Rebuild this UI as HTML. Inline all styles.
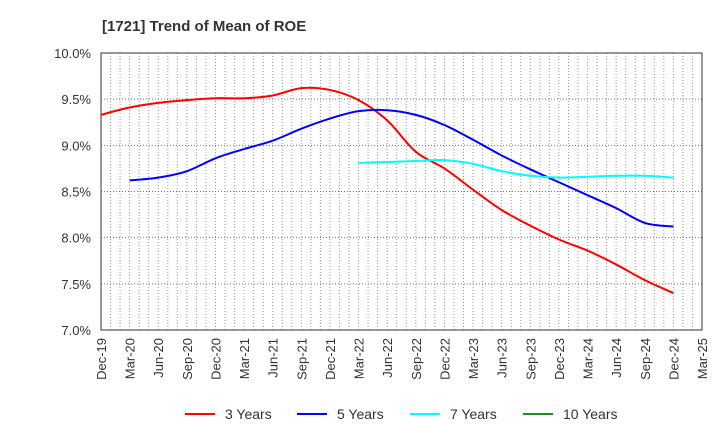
<!DOCTYPE html>
<html><head><meta charset="utf-8"><style>
body{margin:0;background:#fff;font-family:"Liberation Sans",sans-serif;}
</style></head><body>
<svg id="chart" width="720" height="440" xmlns="http://www.w3.org/2000/svg">
<text x="102" y="31" font-size="15" font-weight="bold" fill="#333">[1721]  Trend of Mean of ROE</text>
<g id="grid"></g><g id="axes"></g><g id="series"></g><g id="legend"></g>
</svg>
<script>
const xLabels=["Dec-19","Mar-20","Jun-20","Sep-20","Dec-20","Mar-21","Jun-21","Sep-21","Dec-21","Mar-22","Jun-22","Sep-22","Dec-22","Mar-23","Jun-23","Sep-23","Dec-23","Mar-24","Jun-24","Sep-24","Dec-24","Mar-25"];
const yTicks=[7.0,7.5,8.0,8.5,9.0,9.5,10.0];
const s3=[9.33,9.41,9.46,9.49,9.51,9.51,9.54,9.62,9.60,9.49,9.27,8.93,8.75,8.52,8.30,8.13,7.98,7.86,7.71,7.54,7.40];
const s3Start=0;
const s5=[8.62,8.65,8.72,8.86,8.96,9.05,9.18,9.29,9.37,9.38,9.33,9.22,9.06,8.89,8.74,8.60,8.46,8.32,8.16,8.12];
const s5Start=1;
const s7=[8.81,8.82,8.83,8.84,8.80,8.72,8.67,8.65,8.66,8.67,8.67,8.65];
const s7Start=9;
const s10=[];
const s10Start=0;
const X0=101,X1=702,Y0=330,Y1=53;
const NS="http://www.w3.org/2000/svg";
const xs=i=>X0+(X1-X0)*i/(xLabels.length-1);
const ys=v=>Y0-(v-7)/(10-7)*(Y0-Y1);
function mk(tag,attrs,parent){const e=document.createElementNS(NS,tag);for(const k in attrs)e.setAttribute(k,attrs[k]);parent.appendChild(e);return e;}
const grid=document.getElementById('grid'),axes=document.getElementById('axes'),ser=document.getElementById('series'),leg=document.getElementById('legend');
for(let m=1;m<(xLabels.length-1)*3;m++){const x=X0+(X1-X0)*m/((xLabels.length-1)*3);
const l=mk('line',{x1:x,x2:x,y1:Y1,y2:Y0,stroke:'#999','stroke-dasharray':'1,2','stroke-width':1},grid);

}
yTicks.forEach(v=>{const y=ys(v);
const l=mk('line',{x1:X0,x2:X1,y1:y,y2:y,stroke:'#777','stroke-dasharray':'1,2','stroke-width':1},grid);


const t=mk('text',{x:91,y:y+5,'text-anchor':'end','font-size':13,fill:'#333'},axes);t.textContent=v.toFixed(1)+'%';

});
const fr=mk('rect',{x:X0,y:Y1,width:X1-X0,height:Y0-Y1,fill:'none',stroke:'#333','stroke-width':1},axes);


xLabels.forEach((s,i)=>{const x=xs(i);
const t=mk('text',{x:0,y:0,'text-anchor':'end','font-size':13,fill:'#333',transform:`translate(${x+5},${Y0+8}) rotate(-90)`},axes);t.textContent=s;

});
function path(vals,start){const p=vals.map((v,i)=>[xs(i+start),ys(v)]);if(p.length<2)return '';
let d=`M${p[0][0]},${p[0][1]}`;
for(let i=0;i<p.length-1;i++){const a=p[i-1]||p[i],b=p[i],c=p[i+1],e=p[i+2]||c;
d+=` C${b[0]+(c[0]-a[0])/6},${b[1]+(c[1]-a[1])/6} ${c[0]-(e[0]-b[0])/6},${c[1]-(e[1]-b[1])/6} ${c[0]},${c[1]}`;}return d;}
const series=[[s3,s3Start,'#ff0000','3 Years','series-3-years'],[s5,s5Start,'#0000ff','5 Years','series-5-years'],[s7,s7Start,'#00ffff','7 Years','series-7-years'],[s10,s10Start,'#228b22','10 Years','series-10-years']];
series.forEach(([v,st,c,n,nm])=>{if(v.length<2)return;
const p=mk('path',{d:path(v,st),fill:'none',stroke:c,'stroke-width':2},ser);

});
const lx=[185,297,410,523];
series.forEach(([v,st,c,n,nm],i)=>{const g=mk('g',{},leg);


mk('line',{x1:lx[i],x2:lx[i]+30,y1:414,y2:414,stroke:c,'stroke-width':2},g);
const t=mk('text',{x:lx[i]+40,y:419,'font-size':14,fill:'#333'},g);t.textContent=n;});
</script>
</body></html>
